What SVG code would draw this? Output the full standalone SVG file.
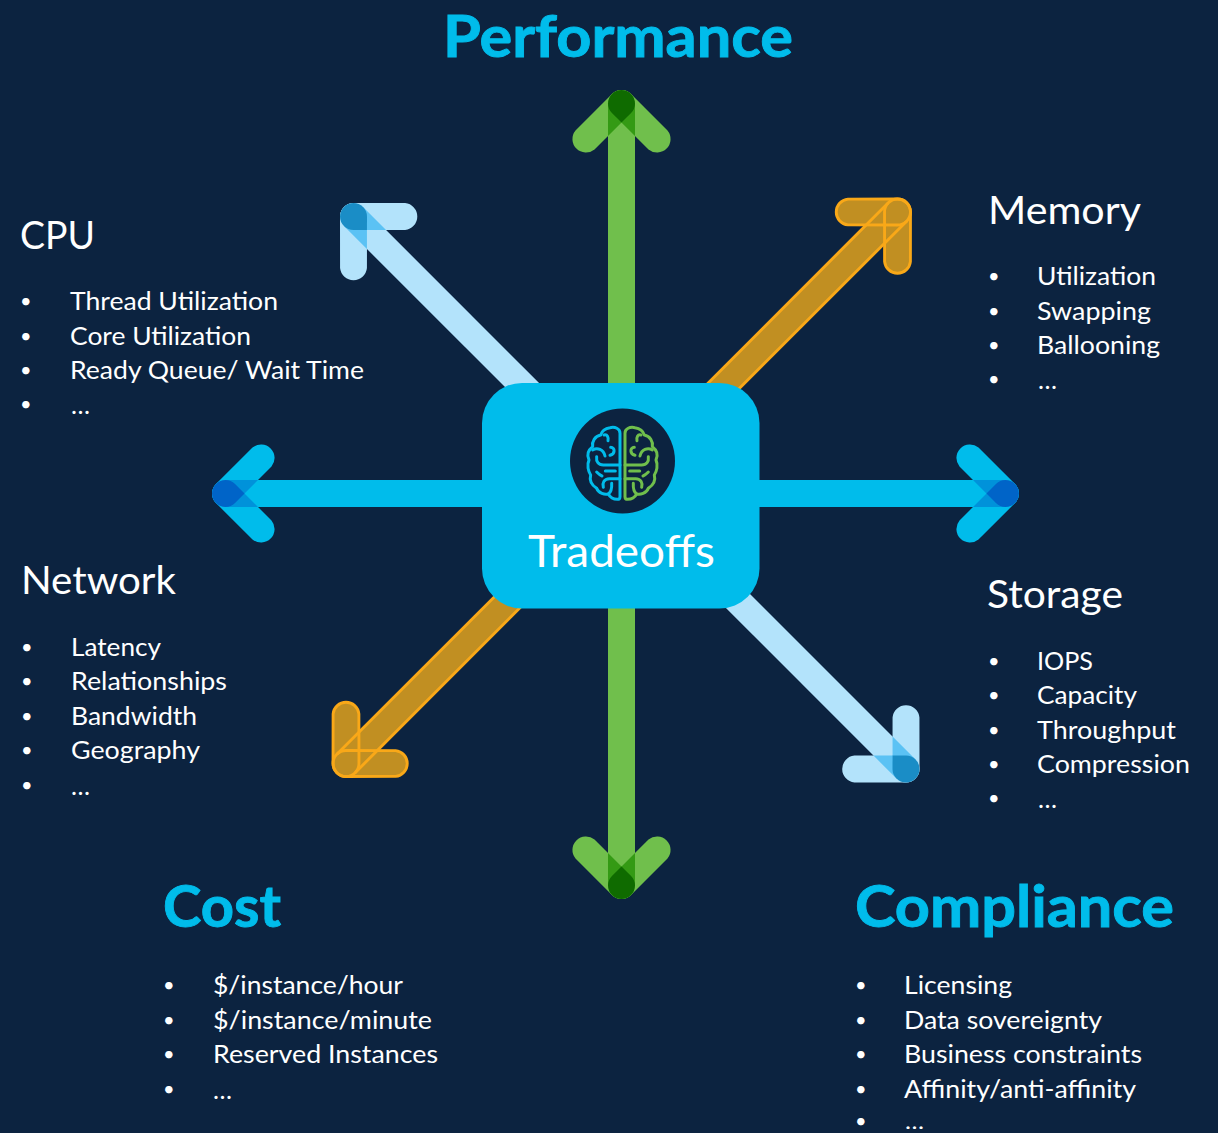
<svg xmlns="http://www.w3.org/2000/svg" xmlns:xlink="http://www.w3.org/1999/xlink" width="1218" height="1133" viewBox="0 0 1218 1133">
<style>
text{font-family:"Lato","Carlito","Liberation Sans",sans-serif}
.t{font-size:25px;fill:#fff}
.k{font-size:20px;fill:#fff}
.h{font-size:38px;fill:#fff}
.big{font-size:58px;font-weight:700;fill:#00bceb;stroke:#00bceb;stroke-width:0.9}
.brain{fill:none;stroke-width:9;stroke-linecap:round;stroke-linejoin:round}
.g{--a:#70bf4c;--m:#349a14;--d:#0f6b00}
.b{--a:#00bceb;--m:#0092da;--d:#0064c8}
.l{--a:#b3e3fb;--m:#5bc2f4;--d:#1a8dc6}
.o{--a:#c18f22}
.a{fill:var(--a)}.m{fill:var(--m)}.d{fill:var(--d)}
.e{fill:none;stroke:#f9a818;stroke-width:3}
</style>
<defs>
<path id="bl" d="M-9.55,-9.55 L-46,27 A13.5,13.5 0 0 0 -27,46 L9.55,9.55 A13.5,13.5 0 0 0 -9.55,-9.55 Z"/>
<path id="br" d="M9.55,-9.55 L46,27 A13.5,13.5 0 0 1 27,46 L-9.55,9.55 A13.5,13.5 0 0 1 9.55,-9.55 Z"/>
<g id="arrow">
<rect class="a" x="-13.5" y="0" width="27" height="300"/>
<use href="#bl" class="a"/><use href="#br" class="a"/>
<path class="m" d="M-13.5,0 L13.5,0 L13.5,32.5 L0,19 L-13.5,32.5 Z"/>
<path class="d" d="M-9.55,9.55 A13.5,13.5 0 1 1 9.55,9.55 L0,19 Z"/>
</g>
<g id="arrowo">
<rect class="a" x="-13.5" y="0" width="27" height="300"/>
<use href="#bl" class="a"/><use href="#br" class="a"/>
<path class="e" d="M-13.5,0 V300 M13.5,0 V300"/>
<use href="#bl" class="e"/><use href="#br" class="e"/>
</g>
<g id="hemi">
<path d="M240,320 L240,130 C240,115 225,110 210,113 C195,115 185,125 182,135 C165,138 155,155 158,170 C145,180 140,195 147,210 C140,225 145,245 152,255 C148,270 155,285 170,295 C175,310 195,315 205,312 C212,325 225,328 232,328 C238,328 240,325 240,320 Z"/>
<path d="M240,225 H190 C175,225 168,215 170,200"/>
<path d="M158,180 C172,172 190,178 195,198"/>
<path d="M192,135 C202,132 206,142 204,152"/>
<path d="M212,172 C226,172 226,192 210,196"/>
<path d="M196,243 H226"/>
<path d="M170,246 C176,252 180,256 186,258"/>
<path d="M240,266 H208 C192,266 186,280 190,292"/>
<path d="M215,280 C216,296 214,306 205,312"/>
</g>
</defs>
<rect id="bg" width="1218" height="1133" fill="#0c2340"/>
<g id="connectors">
<use href="#arrow" class="g" transform="translate(621.5,103.5)"/>
<use href="#arrow" class="g" transform="translate(621.5,885.5) rotate(180)"/>
<use href="#arrow" class="b" transform="translate(225.5,493.5) rotate(-90)"/>
<use href="#arrow" class="b" transform="translate(1005.5,493.5) rotate(90)"/>
<use href="#arrow" class="l" transform="translate(353.5,216.5) rotate(-45)"/>
<use href="#arrow" class="l" transform="translate(906,769) rotate(135)"/>
<use href="#arrowo" class="o" transform="translate(897.5,212) rotate(45) scale(0.96)"/>
<use href="#arrowo" class="o" transform="translate(346,763.5) rotate(225) scale(0.96)"/>
</g>
<g id="tradeoffs">
<rect x="482" y="383" width="277.500" height="225.500" rx="40" fill="#00bceb"/>
<circle cx="622.500" cy="461" r="52.500" fill="#0c2340"/>
<g transform="translate(540,390) scale(0.3333)">
<use href="#hemi" class="brain" stroke="#00bceb"/>
<use href="#hemi" class="brain" stroke="#70bf4c" transform="matrix(-1,0,0,1,495,0)"/>
</g>
<text x="528" y="567" font-size="44" fill="#fff" textLength="187" lengthAdjust="spacingAndGlyphs">Tradeoffs</text>
</g>
<g id="performance"><text class="big" x="443" y="57" textLength="350" lengthAdjust="spacingAndGlyphs">Performance</text></g>
<g id="cpu">
<text class="h" x="20" y="249" textLength="75" lengthAdjust="spacingAndGlyphs">CPU</text>
<text class="k" x="20" y="308">•</text><text class="t" x="70" y="310" textLength="208" lengthAdjust="spacingAndGlyphs">Thread Utilization</text>
<text class="k" x="20" y="343">•</text><text class="t" x="70" y="345" textLength="181" lengthAdjust="spacingAndGlyphs">Core Utilization</text>
<text class="k" x="20" y="377">•</text><text class="t" x="70" y="379" textLength="294" lengthAdjust="spacingAndGlyphs">Ready Queue/ Wait Time</text>
<text class="k" x="20" y="411">•</text><text class="t" x="71" y="414" textLength="19" lengthAdjust="spacingAndGlyphs">…</text>
</g>
<g id="memory">
<text class="h" x="988" y="224" textLength="153" lengthAdjust="spacingAndGlyphs">Memory</text>
<text class="k" x="988" y="283">•</text><text class="t" x="1037" y="285" textLength="119" lengthAdjust="spacingAndGlyphs">Utilization</text>
<text class="k" x="988" y="318">•</text><text class="t" x="1037" y="320" textLength="114" lengthAdjust="spacingAndGlyphs">Swapping</text>
<text class="k" x="988" y="352">•</text><text class="t" x="1037" y="354" textLength="123" lengthAdjust="spacingAndGlyphs">Ballooning</text>
<text class="k" x="988" y="386">•</text><text class="t" x="1038" y="389" textLength="19" lengthAdjust="spacingAndGlyphs">…</text>
</g>
<g id="network">
<text class="h" x="21" y="594" textLength="155" lengthAdjust="spacingAndGlyphs">Network</text>
<text class="k" x="21" y="654">•</text><text class="t" x="71" y="656" textLength="90" lengthAdjust="spacingAndGlyphs">Latency</text>
<text class="k" x="21" y="688">•</text><text class="t" x="71" y="690" textLength="156" lengthAdjust="spacingAndGlyphs">Relationships</text>
<text class="k" x="21" y="723">•</text><text class="t" x="71" y="725" textLength="126" lengthAdjust="spacingAndGlyphs">Bandwidth</text>
<text class="k" x="21" y="757">•</text><text class="t" x="71" y="759" textLength="129" lengthAdjust="spacingAndGlyphs">Geography</text>
<text class="k" x="21" y="792">•</text><text class="t" x="71" y="795" textLength="19" lengthAdjust="spacingAndGlyphs">…</text>
</g>
<g id="storage">
<text class="h" x="987" y="608" textLength="136" lengthAdjust="spacingAndGlyphs">Storage</text>
<text class="k" x="988" y="668">•</text><text class="t" x="1037" y="670" textLength="56" lengthAdjust="spacingAndGlyphs">IOPS</text>
<text class="k" x="988" y="702">•</text><text class="t" x="1037" y="704" textLength="100" lengthAdjust="spacingAndGlyphs">Capacity</text>
<text class="k" x="988" y="737">•</text><text class="t" x="1037" y="739" textLength="139" lengthAdjust="spacingAndGlyphs">Throughput</text>
<text class="k" x="988" y="771">•</text><text class="t" x="1037" y="773" textLength="153" lengthAdjust="spacingAndGlyphs">Compression</text>
<text class="k" x="988" y="805">•</text><text class="t" x="1038" y="808" textLength="19" lengthAdjust="spacingAndGlyphs">…</text>
</g>
<g id="cost">
<text class="big" x="163" y="927" textLength="118" lengthAdjust="spacingAndGlyphs">Cost</text>
<text class="k" x="163" y="992">•</text><text class="t" x="213" y="994" textLength="190" lengthAdjust="spacingAndGlyphs">$/instance/hour</text>
<text class="k" x="163" y="1027">•</text><text class="t" x="213" y="1029" textLength="219" lengthAdjust="spacingAndGlyphs">$/instance/minute</text>
<text class="k" x="163" y="1061">•</text><text class="t" x="213" y="1063" textLength="225" lengthAdjust="spacingAndGlyphs">Reserved Instances</text>
<text class="k" x="163" y="1096">•</text><text class="t" x="213" y="1099" textLength="19" lengthAdjust="spacingAndGlyphs">…</text>
</g>
<g id="compliance">
<text class="big" x="855" y="927" textLength="319" lengthAdjust="spacingAndGlyphs">Compliance</text>
<text class="k" x="855" y="992">•</text><text class="t" x="904" y="994" textLength="108" lengthAdjust="spacingAndGlyphs">Licensing</text>
<text class="k" x="855" y="1027">•</text><text class="t" x="904" y="1029" textLength="198" lengthAdjust="spacingAndGlyphs">Data sovereignty</text>
<text class="k" x="855" y="1061">•</text><text class="t" x="904" y="1063" textLength="238" lengthAdjust="spacingAndGlyphs">Business constraints</text>
<text class="k" x="855" y="1096">•</text><text class="t" x="904" y="1098" textLength="232" lengthAdjust="spacingAndGlyphs">Affinity/anti-affinity</text>
<text class="k" x="855" y="1128">•</text><text style="font-size:21px" fill="#fff" x="905" y="1128.500" textLength="19" lengthAdjust="spacingAndGlyphs">…</text>
</g>
</svg>
